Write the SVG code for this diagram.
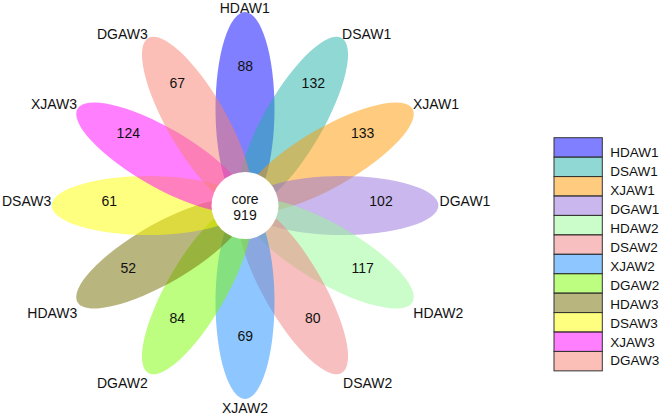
<svg xmlns="http://www.w3.org/2000/svg" width="666" height="418" viewBox="0 0 666 418">
<style>
text{font-family:"Liberation Sans",Arial,sans-serif;fill:#111;}
.lab{font-size:14px;text-anchor:middle;}
.num{font-size:14px;text-anchor:middle;}
.core{font-size:14px;text-anchor:middle;}
.leg{font-size:13.5px;}
.p{fill-opacity:0.5;stroke:none;}
.lr{fill-opacity:0.5;stroke:#333;stroke-width:1;}
</style>
<defs>
<ellipse id="petal" cx="245" cy="108.8" rx="29.5" ry="96.7"/>
</defs>
<rect width="666" height="418" fill="#fff"/>
<g id="petals">
<g id="HDAW1"><use href="#petal" class="p" fill="#0000ff"/><text class="num" x="245.3" y="70.7">88</text><text class="lab" x="244.7" y="12.5">HDAW1</text></g>
<g id="DSAW1"><use href="#petal" class="p" fill="#20b2aa" transform="rotate(30 245 205.5)"/><text class="num" x="313.3" y="88.3">132</text><text class="lab" x="366.7" y="38.5">DSAW1</text></g>
<g id="XJAW1"><use href="#petal" class="p" fill="#ff9900" transform="rotate(60 245 205.5)"/><text class="num" x="362.7" y="138.3">133</text><text class="lab" x="436" y="109">XJAW1</text></g>
<g id="DGAW1"><use href="#petal" class="p" fill="#9370db" transform="rotate(90 245 205.5)"/><text class="num" x="381" y="206">102</text><text class="lab" x="465" y="206">DGAW1</text></g>
<g id="HDAW2"><use href="#petal" class="p" fill="#98fb98" transform="rotate(120 245 205.5)"/><text class="num" x="362.7" y="273.3">117</text><text class="lab" x="438.3" y="317.5">HDAW2</text></g>
<g id="DSAW2"><use href="#petal" class="p" fill="#f08080" transform="rotate(150 245 205.5)"/><text class="num" x="312.7" y="322.7">80</text><text class="lab" x="367.7" y="387.5">DSAW2</text></g>
<g id="XJAW2"><use href="#petal" class="p" fill="#1e90ff" transform="rotate(180 245 205.5)"/><text class="num" x="245.3" y="340.7">69</text><text class="lab" x="245" y="412.7">XJAW2</text></g>
<g id="DGAW2"><use href="#petal" class="p" fill="#7cfc00" transform="rotate(210 245 205.5)"/><text class="num" x="177.3" y="322.7">84</text><text class="lab" x="122.3" y="387.5">DGAW2</text></g>
<g id="HDAW3"><use href="#petal" class="p" fill="#736b00" transform="rotate(240 245 205.5)"/><text class="num" x="128.3" y="273.3">52</text><text class="lab" x="52.3" y="317.5">HDAW3</text></g>
<g id="DSAW3"><use href="#petal" class="p" fill="#ffff00" transform="rotate(270 245 205.5)"/><text class="num" x="109.3" y="206">61</text><text class="lab" x="26.6" y="206">DSAW3</text></g>
<g id="XJAW3"><use href="#petal" class="p" fill="#ff00ff" transform="rotate(300 245 205.5)"/><text class="num" x="128.3" y="138.3">124</text><text class="lab" x="54" y="109">XJAW3</text></g>
<g id="DGAW3"><use href="#petal" class="p" fill="#fa8072" transform="rotate(330 245 205.5)"/><text class="num" x="177.3" y="88.3">67</text><text class="lab" x="122.3" y="38.5">DGAW3</text></g>
</g>
<g id="core">
<circle cx="245" cy="205.5" r="33.5" fill="#fff"/>
<text class="core" x="245" y="204">core</text>
<text class="core" x="245" y="220">919</text>
</g>
<g id="legend">
<rect class="lr" x="554" y="137.7" width="48.3" height="19.43" fill="#0000ff"/>
<rect class="lr" x="554" y="157.13" width="48.3" height="19.43" fill="#20b2aa"/>
<rect class="lr" x="554" y="176.56" width="48.3" height="19.43" fill="#ff9900"/>
<rect class="lr" x="554" y="195.99" width="48.3" height="19.43" fill="#9370db"/>
<rect class="lr" x="554" y="215.42" width="48.3" height="19.43" fill="#98fb98"/>
<rect class="lr" x="554" y="234.85" width="48.3" height="19.43" fill="#f08080"/>
<rect class="lr" x="554" y="254.28" width="48.3" height="19.43" fill="#1e90ff"/>
<rect class="lr" x="554" y="273.71" width="48.3" height="19.43" fill="#7cfc00"/>
<rect class="lr" x="554" y="293.14" width="48.3" height="19.43" fill="#736b00"/>
<rect class="lr" x="554" y="312.57" width="48.3" height="19.43" fill="#ffff00"/>
<rect class="lr" x="554" y="332" width="48.3" height="19.43" fill="#ff00ff"/>
<rect class="lr" x="554" y="351.43" width="48.3" height="19.43" fill="#fa8072"/>
<text class="leg" x="610.3" y="157">HDAW1</text>
<text class="leg" x="610.3" y="175.95">DSAW1</text>
<text class="leg" x="610.3" y="194.9">XJAW1</text>
<text class="leg" x="610.3" y="213.85">DGAW1</text>
<text class="leg" x="610.3" y="232.8">HDAW2</text>
<text class="leg" x="610.3" y="251.75">DSAW2</text>
<text class="leg" x="610.3" y="270.7">XJAW2</text>
<text class="leg" x="610.3" y="289.65">DGAW2</text>
<text class="leg" x="610.3" y="308.6">HDAW3</text>
<text class="leg" x="610.3" y="327.55">DSAW3</text>
<text class="leg" x="610.3" y="346.5">XJAW3</text>
<text class="leg" x="610.3" y="365.45">DGAW3</text>
</g>
</svg>
